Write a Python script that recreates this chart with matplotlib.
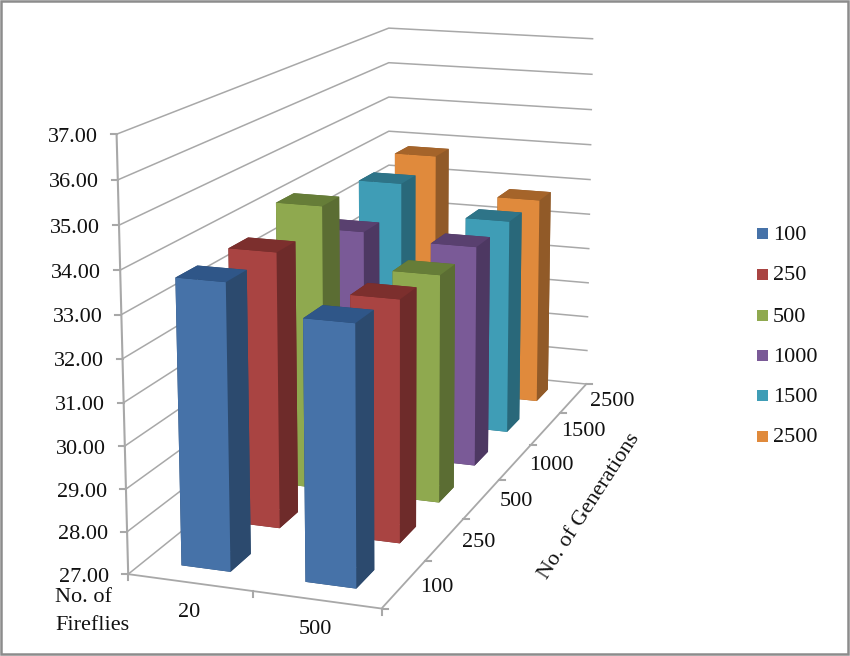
import numpy as np
import matplotlib
matplotlib.use("Agg")
import matplotlib.pyplot as plt
from matplotlib.lines import Line2D
from matplotlib.patches import Rectangle
from matplotlib.transforms import Affine2D

# ---------- data ----------
fireflies = ["20", "500"]
generations = ["100", "250", "500", "1000", "1500", "2500"]
values_20 = [33.70, 33.70, 34.18, 32.90, 33.58, 33.78]
values_500 = [33.05, 32.85, 32.72, 32.75, 32.78, 32.75]
z_ticks = [27, 28, 29, 30, 31, 32, 33, 34, 35, 36, 37]
front_colors = ["#4672a8", "#a94442", "#8fa94f", "#7a5a97", "#3f9db6", "#e08a3c"]
side_colors = ["#2c4a6e", "#6e2b2a", "#5b6d33", "#4d3862", "#29687a", "#915a28"]
top_colors = ["#2f5688", "#7c2f2d", "#667d38", "#59406f", "#2e7488", "#a5642a"]

W, H = 850, 656
plt.rcParams["font.family"] = ["Liberation Serif", "DejaVu Serif"]
fig = plt.figure(figsize=(W / 100, H / 100), dpi=100, facecolor="white")
ax = fig.add_axes([0, 0, 1, 1], projection="3d")
ax.set_axis_off()
ax.computed_zorder = False
ax.apply_aspect = lambda position=None: None

# pixel coordinates with the origin at the top left of the picture
px = Affine2D().scale(1 / W, -1 / H).translate(0, 1) + fig.transFigure

# camera fitted from the frame corners of the 3-D box
nx, ny = len(fireflies), len(generations)
zlo, zhi = z_ticks[0], z_ticks[-1]
box = [
    ((0, 0, zlo), (129, 574)), ((nx, 0, zlo), (380, 608)),
    ((nx / 2, 0, zlo), (252, 592)), ((nx, ny, zlo), (586, 384)),
    ((nx, ny / 2, zlo), (500, 480)), ((0, 0, zhi), (117, 134)),
    ((0, ny, zhi), (388, 28)), ((nx, ny, zhi), (593, 39)),
]
to2d = ax.transData.inverted()
A = []
for (X, Y, Z), (u, v) in box:
    a, b = to2d.transform((u, H - v))
    A.append([X, Y, Z, 1, 0, 0, 0, 0, -a * X, -a * Y, -a * Z, -a])
    A.append([0, 0, 0, 0, X, Y, Z, 1, -b * X, -b * Y, -b * Z, -b])
p = np.linalg.svd(np.array(A))[2][-1].reshape(3, 4)
if p[2] @ np.array([1, 3, 32, 1]) < 0:
    p = -p
p = p / (p[2] @ np.array([1, 3, 32, 1]))
M = np.vstack([p[0], p[1], [0, 0, 0, -1], p[2]])
ax.get_proj = lambda: M
ax.M = M


def project(X, Y, Z):
    q = p @ np.array([X, Y, Z, 1.0])
    d = ax.transData.transform((q[0] / q[2], q[1] / q[2]))
    return d[0], H - d[1]


# ---------- walls, floor and grid ----------
grid = "#a8a8a8"
for z in z_ticks:
    ax.plot([0, 0, nx], [0, ny, ny], [z, z, z], color=grid, lw=1.1, zorder=1)
ax.plot([0, nx, nx], [0, 0, ny], [zlo, zlo, zlo], color=grid, lw=1.3, zorder=2)
ax.plot([0, 0], [0, 0], [zlo, zhi], color=grid, lw=1.5, zorder=2)

# ---------- bars ----------
w = 0.4
for i, vals in enumerate([values_20, values_500]):
    for j in range(ny - 1, -1, -1):
        faces = [side_colors[j], top_colors[j], front_colors[j],
                 side_colors[j], side_colors[j], side_colors[j]]
        ax.bar3d(i + 0.3, j + 0.3, zlo, w, w, vals[j] - zlo,
                 color=faces, shade=False, zorder=10 + i * 10 + (ny - j))

ax.set_xlim3d(0, nx)
ax.set_ylim3d(0, ny)
ax.set_zlim3d(zlo, zhi)


# ---------- ticks and labels (pixel offsets from the projected axes) ----------
def seg(x0, y0, x1, y1):
    fig.add_artist(Line2D([x0, x1], [y0, y1], color=grid, lw=1.5, transform=px))


fs = 16
ink = "#111111"
for z in z_ticks:
    x, y = project(0, 0, z)
    seg(x - 6, y, x, y)
    fig.text(x - 19, y + 3, f"{z:.2f}", transform=px, fontsize=fs, ha="right", va="center", color=ink)
for i in range(nx + 1):
    x, y = project(i, 0, zlo)
    seg(x, y, x, y + 6)
for j in range(ny + 1):
    x, y = project(nx, j, zlo)
    seg(x, y, x + 6, y)

for i, lab in enumerate(fireflies):
    x, y = project(i + 0.5, 0, zlo)
    fig.text(x - 1, y + 30, lab, transform=px, fontsize=fs, ha="center", va="center", color=ink)
for j, lab in enumerate(generations):
    x, y = project(nx, j + 0.5, zlo)
    fig.text(x + 33 + 1.2 * j, y + 3, lab, transform=px, fontsize=fs, ha="center", va="center", color=ink)

fig.text(55, 597, "No. of", transform=px, fontsize=fs, ha="left", va="center", color=ink)
fig.text(55, 625, "Fireflies", transform=px, fontsize=fs, ha="left", va="center", color=ink)
fig.text(589, 506, "No. of Generations", transform=px, fontsize=fs, ha="center", va="center",
         rotation=57, rotation_mode="anchor", color=ink)

# ---------- legend ----------
legend_y = [233, 274, 315, 355, 395, 436]
for lab, col, y in zip(generations, front_colors, legend_y):
    fig.add_artist(Rectangle((757, y - 5.5), 11, 11, facecolor=col, edgecolor="none", transform=px))
    fig.text(773, y + 2, lab, transform=px, fontsize=fs, ha="left", va="center", color=ink)

# ---------- outer frame ----------
fig.add_artist(Rectangle((1, 1), 847, 653, facecolor="none", edgecolor="#8c8c8c", lw=1.8, transform=px))

fig.savefig("out.png", dpi=100, facecolor="white")
